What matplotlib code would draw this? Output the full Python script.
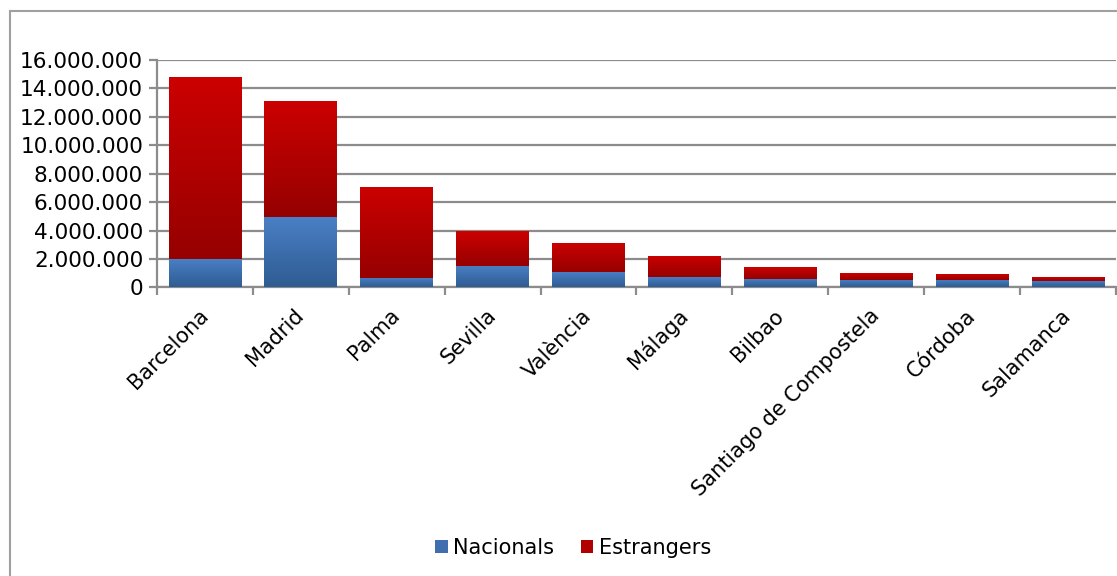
import numpy as np
import matplotlib
matplotlib.use('Agg')
from matplotlib import pyplot as plt
from matplotlib.patches import Rectangle, Patch
from matplotlib.ticker import FuncFormatter, FixedLocator

# dades (passatgers per aeroport)
cities = ['Barcelona', 'Madrid', 'Palma', 'Sevilla', 'València', 'Málaga',
          'Bilbao', 'Santiago de Compostela', 'Córdoba', 'Salamanca']
nacionals = [2000000, 4980000, 670000, 1520000, 1100000, 750000,
             610000, 530000, 530000, 460000]
estrangers = [12820000, 8130000, 6420000, 2460000, 2040000, 1480000,
              840000, 490000, 420000, 280000]

plt.rcParams['font.family'] = 'DejaVu Sans'

fig = plt.figure(figsize=(11.17, 5.76), dpi=100)
ax = fig.add_axes([0.1406, 0.5009, 0.8584, 0.3949])

# marc exterior gris
fig.patches.append(Rectangle((10/1117, -0.1), 1.2, 1 - 11/576 + 0.1,
                             transform=fig.transFigure, fill=False,
                             edgecolor='#a0a0a0', linewidth=1.5))

x = np.arange(len(cities))
width = 0.76
b1 = ax.bar(x, nacionals, width, color='#3f6fae', zorder=3)
b2 = ax.bar(x, estrangers, width, bottom=nacionals, color='#b00000', zorder=3)

grad = np.linspace(1, 0, 256).reshape(-1, 1)
blue_cmap = matplotlib.colors.LinearSegmentedColormap.from_list('b', ['#2f5c92', '#4a80c6'])
red_cmap = matplotlib.colors.LinearSegmentedColormap.from_list('r', ['#960000', '#cc0000'])
for bars, cmap in ((b1, blue_cmap), (b2, red_cmap)):
    for p in bars:
        x0, y0 = p.get_x(), p.get_y()
        im = ax.imshow(grad, cmap=cmap, aspect='auto', zorder=4,
                       extent=[x0, x0 + p.get_width(), y0, y0 + p.get_height()])
        im.set_clip_path(p)

ax.set_xlim(-0.5, len(cities) - 0.5)
ax.set_ylim(0, 16000000)
ax.yaxis.set_major_locator(FixedLocator(np.arange(0, 16000001, 2000000)))
ax.yaxis.set_major_formatter(FuncFormatter(lambda v, pos: '{:,.0f}'.format(v).replace(',', '.')))
ax.grid(axis='y', color='#8c8c8c', linewidth=1.6, zorder=1)

ax.set_xticks(x)
ax.set_xticklabels(cities, rotation=45, ha='right', va='center', rotation_mode='anchor')
ax.set_xticks(np.arange(-0.5, len(cities), 1), minor=True)
ax.tick_params(axis='x', which='major', length=0, pad=18, labelsize=15)
ax.tick_params(axis='x', which='minor', length=6, width=1.6, color='#8c8c8c')
ax.tick_params(axis='y', length=6, width=1.6, color='#8c8c8c', labelsize=15.6, pad=4)

for s in ['top', 'right']:
    ax.spines[s].set_visible(False)
for s in ['left', 'bottom']:
    ax.spines[s].set_color('#8c8c8c')
    ax.spines[s].set_linewidth(1.6)

handles = [Patch(facecolor='#3f6fae', label='Nacionals'),
           Patch(facecolor='#b00000', label='Estrangers')]
fig.legend(handles=handles, loc='center', bbox_to_anchor=(0.513, 0.049), ncol=2,
           frameon=False, fontsize=15, handlelength=0.6, handleheight=0.6,
           handletextpad=0.25, columnspacing=1.3)

plt.savefig('out.png', dpi=100)
